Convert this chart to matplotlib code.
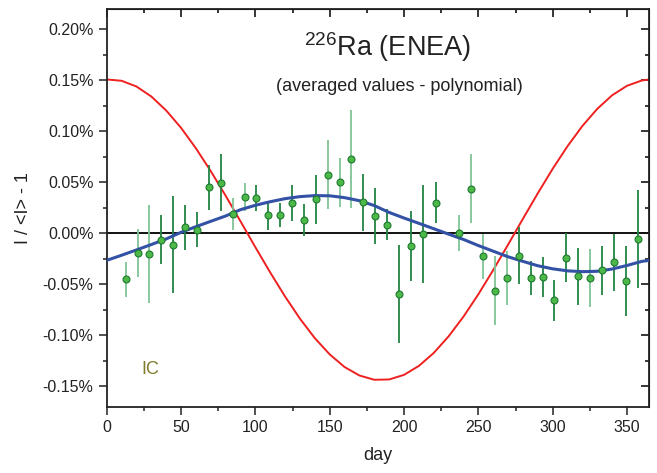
import matplotlib
matplotlib.use('Agg')
import matplotlib.pyplot as plt
from matplotlib.ticker import MultipleLocator, FuncFormatter

plt.rcParams['font.family'] = ['Liberation Sans', 'DejaVu Sans']

# averaged measurements (day of year, I/<I>-1 in %, error in %)
days = [12.8, 20.9, 28.7, 36.8, 44.6, 52.7, 60.8, 68.7, 76.7, 84.8, 92.9,
        100.7, 108.8, 116.6, 124.7, 132.8, 140.9, 149.0, 156.6, 164.6, 172.7,
        180.8, 188.7, 196.9, 205.0, 213.1, 221.2, 237.1, 245.0, 253.1, 261.2,
        269.0, 277.1, 285.1, 293.2, 301.1, 309.1, 317.0, 325.1, 333.2, 341.2,
        349.1, 357.1]
values = [-0.0451, -0.0193, -0.0203, -0.0062, -0.0110, 0.0059, 0.0036, 0.0451,
          0.0497, 0.0190, 0.0356, 0.0346, 0.0176, 0.0180, 0.0297, 0.0130,
          0.0336, 0.0575, 0.0503, 0.0732, 0.0304, 0.0170, 0.0085, -0.0595,
          -0.0124, -0.0010, 0.0300, 0.0003, 0.0438, -0.0225, -0.0562, -0.0438,
          -0.0219, -0.0438, -0.0428, -0.0657, -0.0239, -0.0420, -0.0438,
          -0.0363, -0.0284, -0.0468, -0.0052]
errors = [0.017, 0.024, 0.048, 0.024, 0.048, 0.022, 0.017, 0.022, 0.028, 0.016,
          0.014, 0.013, 0.014, 0.012, 0.018, 0.016, 0.024, 0.034, 0.024, 0.048,
          0.028, 0.027, 0.015, 0.048, 0.034, 0.048, 0.020, 0.018, 0.034, 0.022,
          0.034, 0.026, 0.028, 0.017, 0.020, 0.020, 0.024, 0.028, 0.028, 0.024,
          0.028, 0.034, 0.048]
light_bar = [1, 1, 1, 0, 0, 0, 0, 0, 0, 1, 1, 0, 0, 0, 0, 0, 0, 1, 1, 1, 0, 0,
             0, 0, 0, 0, 0, 1, 1, 1, 1, 1, 0, 0, 0, 0, 0, 0, 1, 0, 0, 0, 0]

# curves every 10 days
curve_days = list(range(0, 361, 10)) + [365]
red_curve = [0.1509, 0.1496, 0.1440, 0.1342, 0.1205, 0.1035, 0.0834, 0.0610,
             0.0369, 0.0118, -0.0136, -0.0384, -0.0620, -0.0837, -0.1028,
             -0.1187, -0.1311, -0.1394, -0.1436, -0.1433, -0.1388, -0.1300,
             -0.1173, -0.1010, -0.0817, -0.0598, -0.0360, -0.0111, 0.0143,
             0.0393, 0.0633, 0.0855, 0.1053, 0.1221, 0.1354, 0.1447, 0.1499,
             0.1509]
blue_curve = [-0.0265, -0.0215, -0.0163, -0.0110, -0.0055, 0.0010, 0.0065,
              0.0118, 0.0170, 0.0232, 0.0275, 0.0310, 0.0340, 0.0360, 0.0370,
              0.0368, 0.0350, 0.0320, 0.0272, 0.0205, 0.0150, 0.0098, 0.0045,
              -0.0008, -0.0060, -0.0120, -0.0175, -0.0230, -0.0275, -0.0318,
              -0.0348, -0.0368, -0.0376, -0.0372, -0.0350, -0.0315, -0.0275,
              -0.0265]

fig = plt.figure(figsize=(6.57, 4.73), dpi=100)
ax = fig.add_axes([0.1624, 0.1402, 0.8259, 0.8408])

ax.axhline(0, color='#111111', lw=1.4, zorder=1)
ax.plot(curve_days, red_curve, color='#ee2020', lw=1.4, zorder=2)

for d, v, e, lt in zip(days, values, errors, light_bar):
    ax.errorbar(d, v, yerr=e, fmt='none', ecolor='#80c496' if lt else '#238443',
                elinewidth=1.3, capsize=0, zorder=3)
ax.plot(curve_days, blue_curve, color='#3352a6', lw=2.2, zorder=4)
ax.plot(days, values, 'o', ms=5, mfc='#4cb848', mec='#1f7a30', mew=0.8, zorder=5)

ax.set_xlim(0, 365)
ax.set_ylim(-0.17, 0.22)
ax.xaxis.set_major_locator(MultipleLocator(50))
ax.xaxis.set_minor_locator(MultipleLocator(25))
ax.yaxis.set_major_locator(MultipleLocator(0.05))
ax.yaxis.set_minor_locator(MultipleLocator(0.025))
ax.yaxis.set_major_formatter(FuncFormatter(lambda v, p: f'{v:.2f}%'))
ax.tick_params(which='major', direction='out', length=6, width=1.1, labelsize=11.5, colors='#222222')
ax.tick_params(which='minor', direction='out', length=3, width=1.1, colors='#222222')
for s in ax.spines.values():
    s.set_linewidth(1.3)
    s.set_color('#222222')

top = ax.secondary_xaxis('top')
top.xaxis.set_major_locator(MultipleLocator(50))
top.xaxis.set_minor_locator(MultipleLocator(25))
top.tick_params(which='major', direction='in', length=6, width=1.1, labeltop=False)
top.tick_params(which='minor', direction='in', length=3, width=1.1)
right = ax.secondary_yaxis('right')
right.yaxis.set_major_locator(MultipleLocator(0.05))
right.yaxis.set_minor_locator(MultipleLocator(0.025))
right.tick_params(which='major', direction='in', length=6, width=1.1, labelright=False)
right.tick_params(which='minor', direction='in', length=3, width=1.1)

ax.set_xlabel('day', fontsize=13, color='#222222', labelpad=9)
ax.set_ylabel('I / <I> - 1', fontsize=13, color='#222222', labelpad=8)

ax.text(0.518, 0.905, r'$^{\mathregular{226}}$Ra (ENEA)', transform=ax.transAxes,
        ha='center', va='center', fontsize=19.5, color='#222222')
ax.text(0.539, 0.804, '(averaged values - polynomial)', transform=ax.transAxes,
        ha='center', va='center', fontsize=13, color='#222222')
ax.text(0.063, 0.093, 'IC', transform=ax.transAxes, ha='left', va='center',
        fontsize=13, color='#7f7a2c')

fig.savefig('out.png', dpi=100)
